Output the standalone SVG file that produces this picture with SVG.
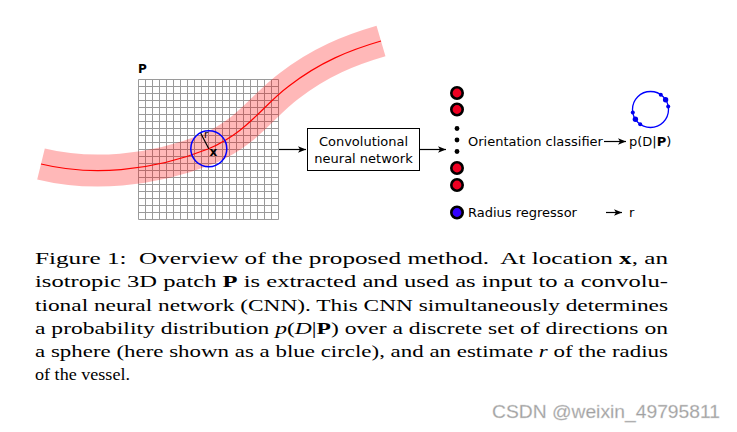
<svg xmlns="http://www.w3.org/2000/svg" width="737" height="432" viewBox="0 0 737 432">
<style>
.sans{font-family:"DejaVu Sans",Verdana,sans-serif;font-size:13px;fill:#000}
.cap{font-family:"Liberation Serif","Times New Roman",serif;font-size:16.5px;fill:#000}
.conn{stroke:#000;stroke-width:1.2;fill:none}
.red{fill:#ee0022;stroke:#000;stroke-width:2.6}
.blue{fill:#3300ff;stroke:#000;stroke-width:2.6}
.dot{fill:#000}
.bdot{fill:#0000ee}
</style>
<defs>
<marker id="ah" viewBox="0 0 10 10" refX="10" refY="5" markerWidth="8" markerHeight="8" markerUnits="userSpaceOnUse" orient="auto">
<path d="M0,1 L10,5 L0,9 L2.5,5 z" fill="#000"/>
</marker>
</defs>
<rect width="737" height="432" fill="#fff"/>
<g id="patch">
<path d="M138.5,79.5 V219.5 M145.5,79.5 V219.5 M152.5,79.5 V219.5 M159.5,79.5 V219.5 M166.5,79.5 V219.5 M173.5,79.5 V219.5 M180.5,79.5 V219.5 M187.5,79.5 V219.5 M194.5,79.5 V219.5 M201.5,79.5 V219.5 M208.5,79.5 V219.5 M215.5,79.5 V219.5 M222.5,79.5 V219.5 M229.5,79.5 V219.5 M236.5,79.5 V219.5 M243.5,79.5 V219.5 M250.5,79.5 V219.5 M257.5,79.5 V219.5 M264.5,79.5 V219.5 M271.5,79.5 V219.5 M278.5,79.5 V219.5 M138.5,79.5 H278.5 M138.5,86.5 H278.5 M138.5,93.5 H278.5 M138.5,100.5 H278.5 M138.5,107.5 H278.5 M138.5,114.5 H278.5 M138.5,121.5 H278.5 M138.5,128.5 H278.5 M138.5,135.5 H278.5 M138.5,142.5 H278.5 M138.5,149.5 H278.5 M138.5,156.5 H278.5 M138.5,163.5 H278.5 M138.5,170.5 H278.5 M138.5,177.5 H278.5 M138.5,184.5 H278.5 M138.5,191.5 H278.5 M138.5,198.5 H278.5 M138.5,205.5 H278.5 M138.5,212.5 H278.5 M138.5,219.5 H278.5" stroke="#9a9a9a" stroke-width="1" fill="none"/>
<text x="138" y="73" class="sans" style="font-weight:bold;font-size:12px">P</text>
</g>
<g id="vessel">
<path d="M41,164 C90,176 150,172 208,149 C248,132 262,106 289,86 C320,62 350,50 381,41" stroke="#ff0000" stroke-opacity="0.28" stroke-width="32" fill="none"/>
<path d="M41,164 C90,176 150,172 208,149 C248,132 262,106 289,86 C320,62 350,50 381,41" stroke="#ff0000" stroke-width="1.2" fill="none"/>
</g>
<g id="location">
<circle cx="208.8" cy="148.8" r="18" fill="none" stroke="#0000ff" stroke-width="1.5"/>
<line x1="208.8" y1="148.8" x2="200.7" y2="133.3" stroke="#000" stroke-width="1.2"/>
<text x="204" y="138" class="sans" style="font-size:10px">r</text>
<text x="209.5" y="156" class="sans" style="font-weight:bold;font-size:12px">x</text>
</g>
<g id="cnn">
<rect x="307.5" y="128.5" width="112" height="42" fill="#fff" stroke="#000" stroke-width="1"/>
<text x="363.5" y="146" class="sans" text-anchor="middle">Convolutional</text>
<text x="363.5" y="162.5" class="sans" text-anchor="middle">neural network</text>
</g>
<g id="outputs">
<circle cx="457" cy="93" r="5.7" class="red"/>
<circle cx="457" cy="109.5" r="5.7" class="red"/>
<circle cx="457" cy="128.5" r="2.4" class="dot"/>
<circle cx="457" cy="140" r="2.4" class="dot"/>
<circle cx="457" cy="151.5" r="2.4" class="dot"/>
<circle cx="457" cy="168" r="5.7" class="red"/>
<circle cx="457" cy="185" r="5.7" class="red"/>
<circle cx="457" cy="212.5" r="5.7" class="blue"/>
<text x="468" y="146" class="sans">Orientation classifier</text>
<text x="468" y="217" class="sans">Radius regressor</text>
</g>
<g id="prob">
<text x="629" y="146" class="sans">p(D|<tspan font-weight="bold">P</tspan>)</text>
<circle cx="650.5" cy="109.5" r="18" fill="none" stroke="#0000ff" stroke-width="1.3"/>
<circle cx="660.8" cy="94.8" r="2" class="bdot"/>
<circle cx="665.6" cy="99.7" r="2.7" class="bdot"/>
<circle cx="668.2" cy="106.4" r="2" class="bdot"/>
<circle cx="632.8" cy="112.6" r="2" class="bdot"/>
<circle cx="635.4" cy="119.3" r="2.7" class="bdot"/>
<circle cx="640.2" cy="124.2" r="2" class="bdot"/>
</g>
<g id="radius-out">
<text x="629" y="217" class="sans">r</text>
</g>
<g id="connectors">
<line x1="279" y1="149.5" x2="306" y2="149.5" class="conn" marker-end="url(#ah)"/>
<line x1="420" y1="149.5" x2="446" y2="149.5" class="conn" marker-end="url(#ah)"/>
<line x1="604" y1="141.5" x2="626" y2="141.5" class="conn" marker-end="url(#ah)"/>
<line x1="606" y1="212.5" x2="622" y2="212.5" class="conn" marker-end="url(#ah)"/>
</g>
<g id="caption">
<text x="35" y="264.3" class="cap" textLength="633" lengthAdjust="spacingAndGlyphs">Figure 1:&#160; Overview of the proposed method.&#160; At location <tspan font-weight="bold">x</tspan>, an</text>
<text x="35" y="287.4" class="cap" textLength="633" lengthAdjust="spacingAndGlyphs">isotropic 3D patch <tspan font-weight="bold">P</tspan> is extracted and used as input to a convolu-</text>
<text x="35" y="310.5" class="cap" textLength="633" lengthAdjust="spacingAndGlyphs">tional neural network (CNN). This CNN simultaneously determines</text>
<text x="35" y="333.6" class="cap" textLength="633" lengthAdjust="spacingAndGlyphs">a probability distribution <tspan font-style="italic">p</tspan>(<tspan font-style="italic">D</tspan>|<tspan font-weight="bold">P</tspan>) over a discrete set of directions on</text>
<text x="35" y="356.7" class="cap" textLength="633" lengthAdjust="spacingAndGlyphs">a sphere (here shown as a blue circle), and an estimate <tspan font-style="italic">r</tspan> of the radius</text>
<text x="35" y="379.8" class="cap" textLength="95" lengthAdjust="spacingAndGlyphs">of the vessel.</text>
</g>
<text x="492" y="418" textLength="228" lengthAdjust="spacingAndGlyphs" style="font-family:'Liberation Sans',Arial,sans-serif;font-size:18px;fill:#a0a0a0;stroke:#d8d8d8;stroke-width:0.3">CSDN @weixin_49795811</text>
</svg>
